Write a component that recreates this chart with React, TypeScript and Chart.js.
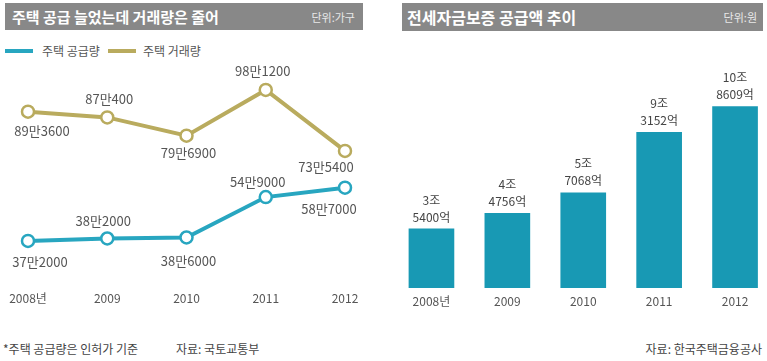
import React, { useEffect, useRef } from "react";
import { Chart, registerables } from "chart.js";

Chart.register(...registerables);

const years = ["2008년", "2009", "2010", "2011", "2012"];
// 단위: 만 가구
const supply = [37.2, 38.2, 38.6, 54.9, 58.7];
const trade = [89.36, 87.04, 79.69, 98.12, 73.54];
const supplyLabels = ["37만2000", "38만2000", "38만6000", "54만9000", "58만7000"];
const tradeLabels = ["89만3600", "87만400", "79만6900", "98만1200", "73만5400"];
// 단위: 조 원
const fundValues = [3.54, 4.4756, 5.7068, 9.3152, 10.8609];
const fundLabelsJo = ["3조", "4조", "5조", "9조", "10조"];
const fundLabelsEok = ["5400억", "4756억", "7068억", "3152억", "8609억"];

const FONT = "'Noto Sans CJK KR', 'Noto Sans', sans-serif";
const SUPPLY_COLOR = "#28a6c0";
const TRADE_COLOR = "#b9ab5e";
const BAR_COLOR = "#1899b4";

const lineLabelPlugin = {
  id: "lineLabels",
  afterDatasetsDraw(chart: any, _args: any, opts: any) {
    const ctx = chart.ctx;
    ctx.save();
    ctx.font = `13px ${FONT}`;
    ctx.fillStyle = "#555";
    ctx.textAlign = "center";
    ctx.textBaseline = "middle";
    chart.data.datasets.forEach((ds: any, i: number) => {
      const meta = chart.getDatasetMeta(i);
      const place = opts.place[i];
      const texts = opts.texts[i];
      meta.data.forEach((pt: any, j: number) => {
        const [dx, dy] = place[j];
        ctx.fillText(texts[j], pt.x + dx, pt.y + dy);
      });
    });
    ctx.restore();
  },
};

const barLabelPlugin = {
  id: "barLabels",
  afterDatasetsDraw(chart: any, _args: any, opts: any) {
    const ctx = chart.ctx;
    ctx.save();
    ctx.font = `12px ${FONT}`;
    ctx.fillStyle = "#444";
    ctx.textAlign = "center";
    ctx.textBaseline = "middle";
    const meta = chart.getDatasetMeta(0);
    meta.data.forEach((bar: any, j: number) => {
      ctx.fillText(opts.line1[j], bar.x, bar.y - 29);
      ctx.fillText(opts.line2[j], bar.x, bar.y - 12);
    });
    ctx.restore();
  },
};

function LineChart() {
  const ref = useRef<HTMLCanvasElement>(null);
  useEffect(() => {
    const chart = new Chart(ref.current as HTMLCanvasElement, {
      type: "line",
      data: {
        labels: years,
        datasets: [
          {
            label: "주택 거래량",
            data: trade,
            borderColor: TRADE_COLOR,
            borderWidth: 4,
            pointRadius: 6,
            pointBorderWidth: 2.5,
            pointBackgroundColor: "#ffffff",
            pointBorderColor: TRADE_COLOR,
            tension: 0,
          },
          {
            label: "주택 공급량",
            data: supply,
            borderColor: SUPPLY_COLOR,
            borderWidth: 4,
            pointRadius: 6,
            pointBorderWidth: 2.5,
            pointBackgroundColor: "#ffffff",
            pointBorderColor: SUPPLY_COLOR,
            tension: 0,
          },
        ],
      },
      options: {
        animation: false,
        responsive: false,
        maintainAspectRatio: false,
        layout: { padding: { left: 28, right: 39, top: 10.5, bottom: 1 } },
        plugins: {
          legend: { display: false },
          tooltip: { enabled: false },
          lineLabels: {
            texts: [tradeLabels, supplyLabels],
            place: [
              [[14, 19], [2, -18], [2, 17], [-3, -19], [-19, 16]],
              [[12, 21], [-4, -17], [2, 24], [-8, -15], [-16, 21]],
            ],
          },
        } as any,
        scales: {
          x: {
            offset: false,
            grid: { display: false, drawTicks: false },
            border: { display: false },
            ticks: { padding: 8, color: "#555", font: { size: 12, family: FONT } },
          },
          y: { display: false, min: 20, max: 110 },
        },
      },
      plugins: [lineLabelPlugin],
    });
    return () => chart.destroy();
  }, []);
  return <canvas ref={ref} width={384} height={265} style={{ position: "absolute", left: 0, top: 50 }} />;
}

function BarChart() {
  const ref = useRef<HTMLCanvasElement>(null);
  useEffect(() => {
    const chart = new Chart(ref.current as HTMLCanvasElement, {
      type: "bar",
      data: {
        labels: years,
        datasets: [
          {
            label: "전세자금보증 공급액",
            data: fundValues,
            backgroundColor: BAR_COLOR,
            barThickness: 45,
          },
        ],
      },
      options: {
        animation: false,
        responsive: false,
        maintainAspectRatio: false,
        layout: { padding: { left: 9.5, right: 11, top: 12.5, bottom: 0.5 } },
        plugins: {
          legend: { display: false },
          tooltip: { enabled: false },
          barLabels: { line1: fundLabelsJo, line2: fundLabelsEok },
        } as any,
        scales: {
          x: {
            grid: { display: false, drawTicks: false },
            border: { display: false },
            ticks: { padding: 6, color: "#555", font: { size: 12, family: FONT } },
          },
          y: { display: false, min: 0, max: 13.5 },
        },
      },
      plugins: [barLabelPlugin],
    });
    return () => chart.destroy();
  }, []);
  return <canvas ref={ref} width={400} height={265} style={{ position: "absolute", left: 384, top: 50 }} />;
}

const headerStyle: React.CSSProperties = {
  position: "absolute",
  background: "#888888",
  color: "#ffffff",
  fontFamily: FONT,
  boxSizing: "border-box",
  display: "flex",
  alignItems: "center",
  justifyContent: "space-between",
};

export default function App() {
  return (
    <div
      style={{
        position: "absolute",
        left: 0,
        top: 0,
        width: 767,
        height: 361,
        overflow: "hidden",
        background: "#ffffff",
        fontFamily: FONT,
      }}
    >
      <div style={{ ...headerStyle, left: 5, top: 3, width: 358, height: 27, padding: "0 8px 0 7px" }}>
        <span style={{ fontSize: 15, fontWeight: 700 }}>주택 공급 늘었는데 거래량은 줄어</span>
        <span style={{ fontSize: 11, color: "#e8e8e8" }}>단위:가구</span>
      </div>
      <div style={{ ...headerStyle, left: 402, top: 3, width: 361, height: 28, padding: "0 6px 0 5px" }}>
        <span style={{ fontSize: 16, fontWeight: 700 }}>전세자금보증 공급액 추이</span>
        <span style={{ fontSize: 11, color: "#e8e8e8" }}>단위:원</span>
      </div>

      <div style={{ position: "absolute", left: 5, top: 42, display: "flex", alignItems: "center", fontSize: 12, color: "#555" }}>
        <span style={{ display: "inline-block", width: 28, height: 4, background: SUPPLY_COLOR, marginRight: 9 }} />
        <span style={{ marginRight: 8 }}>주택 공급량</span>
        <span style={{ display: "inline-block", width: 28, height: 4, background: TRADE_COLOR, marginRight: 7 }} />
        <span>주택 거래량</span>
      </div>

      <LineChart />
      <BarChart />

      <div style={{ position: "absolute", left: 3, top: 340, fontSize: 12, color: "#444" }}>*주택 공급량은 인허가 기준</div>
      <div style={{ position: "absolute", left: 176, top: 340, fontSize: 12, color: "#444" }}>자료: 국토교통부</div>
      <div style={{ position: "absolute", right: 5, top: 340, fontSize: 12, color: "#444" }}>자료: 한국주택금융공사</div>
    </div>
  );
}
